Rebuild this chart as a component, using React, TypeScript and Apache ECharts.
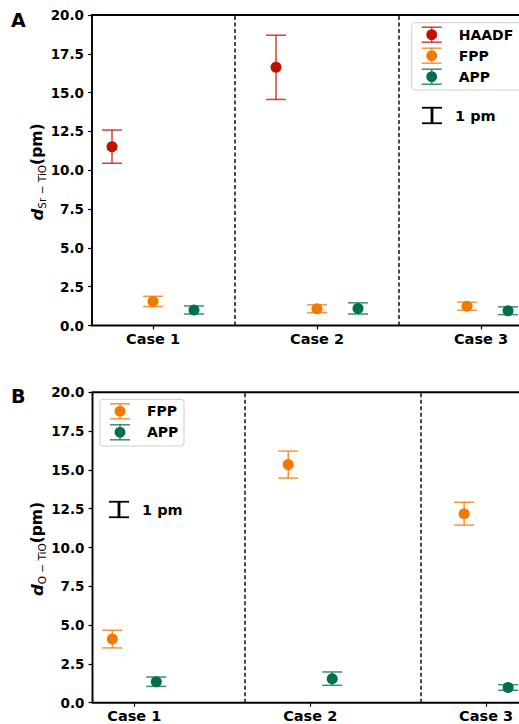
import React, { useEffect, useRef } from "react";
import * as echarts from "echarts";

// ---------- data ----------
const caseLabels = ["Case 1", "Case 2", "Case 3"];
const yTicks = [0, 2.5, 5, 7.5, 10, 12.5, 15, 17.5, 20];

// Panel A: d(Sr-TiO) in pm
const aHaadfX = [-0.25, 0.75];
const aHaadfY = [11.52, 16.63];
const aHaadfErr = [1.07, 2.07];
const aFppX = [0, 1, 1.915];
const aFppY = [1.55, 1.08, 1.24];
const aFppErr = [0.33, 0.25, 0.26];
const aAppX = [0.25, 1.25, 2.165];
const aAppY = [1.0, 1.1, 0.95];
const aAppErr = [0.26, 0.36, 0.25];
const aDividers = [0.5, 1.5];

// Panel B: d(O-TiO) in pm
const bFppX = [-0.125, 0.875, 1.875];
const bFppY = [4.1, 15.34, 12.18];
const bFppErr = [0.57, 0.87, 0.74];
const bAppX = [0.125, 1.125, 2.125];
const bAppY = [1.35, 1.55, 0.98];
const bAppErr = [0.3, 0.43, 0.18];
const bDividers = [0.625, 1.625];

const FONT = "DejaVu Sans";
const COLORS = {
  HAADF: "#c20f00",
  FPP: "#f27800",
  APP: "#00704a",
};

const zip3 = (x: number[], y: number[], e: number[]) => x.map((v, i) => [v, y[i], e[i]]);

function errSeries(name: string, data: number[][], color: string, gi: number) {
  return {
    type: "custom",
    name: name + "-err",
    xAxisIndex: gi,
    yAxisIndex: gi,
    z: 2,
    silent: true,
    clip: false,
    data,
    encode: { x: 0, y: 1 },
    renderItem: (_p: any, api: any) => {
      const x = api.value(0);
      const y = api.value(1);
      const e = api.value(2);
      const top = api.coord([x, y + e]);
      const bot = api.coord([x, y - e]);
      const hw = 10;
      const style = { stroke: color, lineWidth: 1.5, opacity: 0.78 };
      return {
        type: "group",
        children: [
          { type: "line", shape: { x1: top[0], y1: top[1], x2: bot[0], y2: bot[1] }, style },
          { type: "line", shape: { x1: top[0] - hw, y1: top[1], x2: top[0] + hw, y2: top[1] }, style },
          { type: "line", shape: { x1: bot[0] - hw, y1: bot[1], x2: bot[0] + hw, y2: bot[1] }, style },
        ],
      };
    },
  };
}

function dotSeries(name: string, data: number[][], color: string, gi: number, dividers?: number[]) {
  const s: any = {
    type: "scatter",
    name,
    xAxisIndex: gi,
    yAxisIndex: gi,
    z: 3,
    symbol: "circle",
    symbolSize: 11,
    itemStyle: { color, opacity: 1 },
    data: data.map((d) => [d[0], d[1]]),
  };
  if (dividers) {
    s.markLine = {
      silent: true,
      symbol: "none",
      label: { show: false },
      lineStyle: { color: "#111", width: 1.5, type: [4, 2.5] },
      data: dividers.map((v) => ({ xAxis: v })),
    };
  }
  return s;
}

function xAxis(gi: number, min: number, max: number) {
  return {
    type: "value",
    gridIndex: gi,
    min,
    max,
    axisLine: { show: false, onZero: false },
    splitLine: { show: false },
    axisTick: {
      show: true,
      customValues: [0, 1, 2],
      length: 4,
      lineStyle: { color: "#000", width: 1.2 },
    },
    axisLabel: {
      show: true,
      customValues: [0, 1, 2],
      formatter: (v: number) => caseLabels[Math.round(v)] ?? "",
      fontFamily: FONT,
      fontWeight: "bold",
      fontSize: 14.5,
      color: "#000",
      margin: 6,
    },
  };
}

function yAxis(gi: number) {
  return {
    type: "value",
    gridIndex: gi,
    min: 0,
    max: 20,
    interval: 2.5,
    axisLine: { show: false, onZero: false },
    splitLine: { show: false },
    axisTick: { show: true, length: 4, lineStyle: { color: "#000", width: 1.2 } },
    axisLabel: {
      fontFamily: FONT,
      fontWeight: "bold",
      fontSize: 13.5,
      color: "#000",
      margin: 8,
      formatter: (v: number) => (yTicks.includes(v) ? v.toFixed(1) : ""),
    },
  };
}

function yTitle(x: number, y: number, sub: string) {
  return {
    type: "text",
    x,
    y,
    rotation: Math.PI / 2,
    style: {
      text: `{d|d}{s|${sub}}{p|(pm)}`,
      align: "center",
      verticalAlign: "middle",
      fill: "#000",
      rich: {
        d: { fontFamily: FONT, fontStyle: "italic", fontWeight: "bold", fontSize: 16.5, lineHeight: 20, fill: "#000" },
        s: { fontFamily: FONT, fontSize: 10.5, lineHeight: 12, verticalAlign: "bottom", fill: "#000" },
        p: { fontFamily: FONT, fontWeight: "bold", fontSize: 15.5, lineHeight: 20, fill: "#000" },
      },
    },
  };
}

function legendBox(
  left: number,
  top: number,
  width: number,
  height: number,
  entries: { name: string; color: string }[]
) {
  const children: any[] = [
    {
      type: "rect",
      shape: { x: left, y: top, width, height, r: 3 },
      style: { fill: "rgba(255,255,255,0.85)", stroke: "#cfcfcf", lineWidth: 1 },
    },
  ];
  entries.forEach((e, i) => {
    const cy = top + 12 + i * 21;
    const cx = left + 20;
    const ls = { stroke: e.color, lineWidth: 1.5, opacity: 0.78 };
    children.push(
      { type: "line", shape: { x1: cx, y1: cy - 7.5, x2: cx, y2: cy + 7.5 }, style: ls },
      { type: "line", shape: { x1: cx - 10, y1: cy - 7.5, x2: cx + 10, y2: cy - 7.5 }, style: ls },
      { type: "line", shape: { x1: cx - 10, y1: cy + 7.5, x2: cx + 10, y2: cy + 7.5 }, style: ls },
      { type: "circle", shape: { cx, cy, r: 5.4 }, style: { fill: e.color } },
      {
        type: "text",
        x: cx + 27,
        y: cy,
        style: {
          text: e.name,
          fontFamily: FONT,
          fontWeight: "bold",
          fontSize: 14,
          fill: "#000",
          verticalAlign: "middle",
          align: "left",
        },
      }
    );
  });
  return { type: "group", children };
}

function scaleBar(cx: number, cy: number) {
  const h = 7.75;
  const s = { stroke: "#000", lineWidth: 1.8 };
  return {
    type: "group",
    children: [
      { type: "line", shape: { x1: cx, y1: cy - h, x2: cx, y2: cy + h }, style: { stroke: "#000", lineWidth: 2.8 } },
      { type: "line", shape: { x1: cx - 10, y1: cy - h, x2: cx + 10, y2: cy - h }, style: s },
      { type: "line", shape: { x1: cx - 10, y1: cy + h, x2: cx + 10, y2: cy + h }, style: s },
      {
        type: "text",
        x: cx + 23,
        y: cy,
        style: {
          text: "1 pm",
          fontFamily: FONT,
          fontWeight: "bold",
          fontSize: 14.5,
          fill: "#000",
          verticalAlign: "middle",
          align: "left",
        },
      },
    ],
  };
}

function panelLetter(x: number, y: number, t: string) {
  return {
    type: "text",
    x,
    y,
    style: {
      text: t,
      fontFamily: FONT,
      fontWeight: "bold",
      fontSize: 19,
      fill: "#000",
      verticalAlign: "middle",
      align: "left",
    },
  };
}

export default function App() {
  const ref = useRef<HTMLDivElement>(null);
  useEffect(() => {
    if (!ref.current) return;
    const chart = echarts.init(ref.current, undefined, { renderer: "svg" });
    const option: any = {
      animation: false,
      backgroundColor: "#fff",
      grid: [
        {
          left: 92,
          top: 15,
          width: 450,
          height: 310.5,
          show: true,
          borderColor: "#000",
          borderWidth: 1.9,
          backgroundColor: "transparent",
          outerBoundsMode: "none",
          containLabel: false,
        },
        {
          left: 92.5,
          top: 392.3,
          width: 464,
          height: 310.4,
          show: true,
          borderColor: "#000",
          borderWidth: 1.9,
          backgroundColor: "transparent",
          outerBoundsMode: "none",
          containLabel: false,
        },
      ],
      xAxis: [xAxis(0, -0.372, 2.372), xAxis(1, -0.2375, 2.4)],
      yAxis: [yAxis(0), yAxis(1)],
      series: [
        errSeries("HAADF", zip3(aHaadfX, aHaadfY, aHaadfErr), COLORS.HAADF, 0),
        errSeries("FPP", zip3(aFppX, aFppY, aFppErr), COLORS.FPP, 0),
        errSeries("APP", zip3(aAppX, aAppY, aAppErr), COLORS.APP, 0),
        dotSeries("HAADF", zip3(aHaadfX, aHaadfY, aHaadfErr), COLORS.HAADF, 0, aDividers),
        dotSeries("FPP", zip3(aFppX, aFppY, aFppErr), COLORS.FPP, 0),
        dotSeries("APP", zip3(aAppX, aAppY, aAppErr), COLORS.APP, 0),
        errSeries("FPP-B", zip3(bFppX, bFppY, bFppErr), COLORS.FPP, 1),
        errSeries("APP-B", zip3(bAppX, bAppY, bAppErr), COLORS.APP, 1),
        dotSeries("FPP-B", zip3(bFppX, bFppY, bFppErr), COLORS.FPP, 1, bDividers),
        dotSeries("APP-B", zip3(bAppX, bAppY, bAppErr), COLORS.APP, 1),
      ],
      graphic: [
        panelLetter(11, 20, "A"),
        panelLetter(11, 396, "B"),
        yTitle(37, 172, "Sr − TiO"),
        yTitle(37, 549, "O − TiO"),
        legendBox(411.7, 22.7, 130, 67.3, [
          { name: "HAADF", color: COLORS.HAADF },
          { name: "FPP", color: COLORS.FPP },
          { name: "APP", color: COLORS.APP },
        ]),
        scaleBar(432, 115.5),
        legendBox(100, 399.3, 84, 46.7, [
          { name: "FPP", color: COLORS.FPP },
          { name: "APP", color: COLORS.APP },
        ]),
        scaleBar(119, 509.5),
      ],
    };
    chart.setOption(option);
    return () => chart.dispose();
  }, []);
  return (
    <div
      style={{ position: "absolute", left: 0, top: 0, width: 519, height: 724, overflow: "hidden" }}
    >
      <div ref={ref} style={{ width: 580, height: 724 }} />
    </div>
  );
}
